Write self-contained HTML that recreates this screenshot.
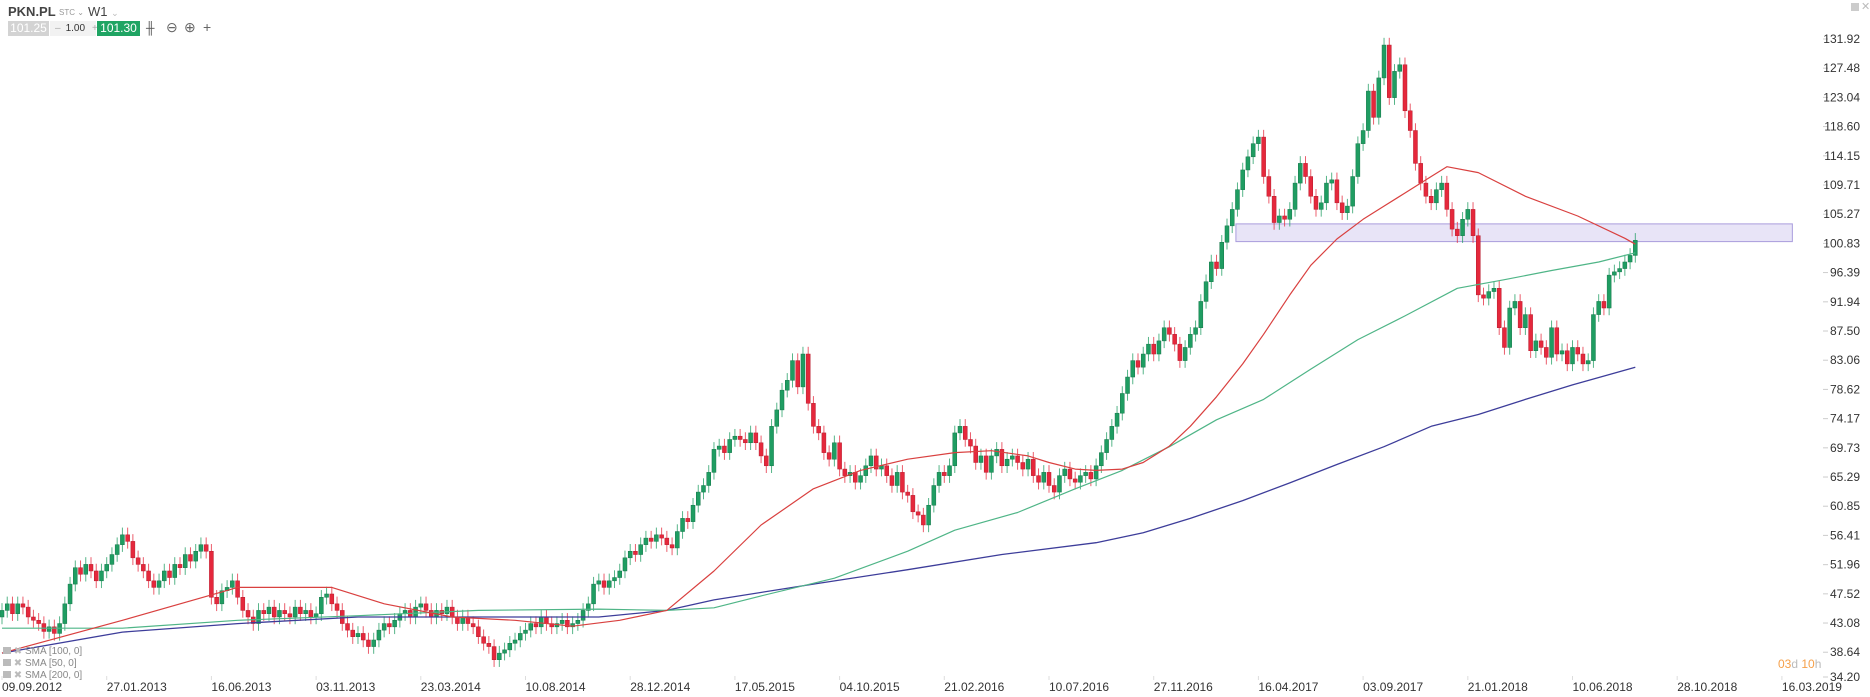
<!DOCTYPE html>
<html><head><meta charset="utf-8">
<style>
body{margin:0;background:#fff;font-family:"Liberation Sans",sans-serif;}
#wrap{position:relative;width:1870px;height:697px;overflow:hidden;}
svg{position:absolute;left:0;top:0;}
.tb{position:absolute;font-size:12px;white-space:nowrap;}
</style></head><body>
<div id="wrap">
<svg id="chart" width="1870" height="697"></svg>

<div class="tb" style="left:8px;top:4px;font-weight:bold;font-size:13px;color:#444">PKN.PL</div>
<div class="tb" style="left:59px;top:8px;font-size:8px;color:#999">STC ⌄</div>
<div class="tb" style="left:88px;top:4px;font-size:13px;color:#444">W1 <span style="color:#bbb;font-size:9px">⌄</span></div>
<div class="tb" style="left:8px;top:21px;width:41px;height:15px;background:#d3d3d3;color:#fff;text-align:center;line-height:15px;font-size:12px">101.25</div>
<div class="tb" style="left:50px;top:21px;width:46px;height:15px;background:#f2f2f2;color:#333;line-height:15px;font-size:10px"><span style="color:#aaa;margin-left:5px">–</span><span style="margin-left:5px">1.00</span><span style="color:#aaa;margin-left:7px">+</span></div>
<div class="tb" style="left:97px;top:21px;width:43px;height:15px;background:#1fa463;color:#fff;text-align:center;line-height:15px;font-size:12px">101.30</div>
<div class="tb" style="left:146px;top:21px;color:#555;font-size:12px">╫</div>
<div class="tb" style="left:166px;top:19px;color:#666;font-size:14px">⊖</div>
<div class="tb" style="left:184px;top:19px;color:#666;font-size:14px">⊕</div>
<div class="tb" style="left:203px;top:19px;color:#666;font-size:14px">+</div>
<div class="tb" style="left:1851px;top:3px;width:8px;height:8px;background:#ccc"></div>
<div class="tb" style="left:1861px;top:0px;color:#bbb;font-size:11px">✕</div>

<div class="tb" style="left:3px;top:646px;font-size:10px;color:#888"><span style="display:inline-block;width:8px;height:7px;background:#bbb"></span> <span style="color:#bbb">✖</span> SMA [100, 0]</div>
<div class="tb" style="left:3px;top:658px;font-size:10px;color:#888"><span style="display:inline-block;width:8px;height:7px;background:#bbb"></span> <span style="color:#bbb">✖</span> SMA [50, 0]</div>
<div class="tb" style="left:3px;top:670px;font-size:10px;color:#888"><span style="display:inline-block;width:8px;height:7px;background:#bbb"></span> <span style="color:#bbb">✖</span> SMA [200, 0]</div>
<div class="tb" style="left:1778px;top:657px;font-size:12px;color:#f5a04a">03<span style="color:#bbb">d</span> 10<span style="color:#bbb">h</span></div>
</div>
<script>
const closes=[
45,46,44.5,46,45.5,44,43.5,43,41.8,42.5,
41.5,43,46,49,51.5,50.5,52,51,49.5,51,
52,53.5,55,56.5,55.5,53,52,51,49.5,48.5,
49.5,51,50,52,51.5,53.5,52.5,54,55,54,
47,46,48,48.5,49.5,47,45,44,43,45,
44.5,45.5,44,45,44.5,44,45.5,44.5,45,44,
44.5,47,47.5,46,45,43,42,41,41.5,40.5,
39.5,40.5,42,43,42.5,43.5,44.5,45,44,45.5,
46,45,44,45,44.5,45.5,44,43,44,43,
42.5,41,40,39.5,37.5,38.5,39,40,40.5,41.5,
42,43,42.5,44,43,42.5,43,43.5,42.5,43,
43.5,45,46,49,49.5,48.5,49.5,50,51,53,
54,53.5,55,56,55.5,56.5,56,55,54.5,57,
59,58.5,61,63,64,66,69.5,70,69,71,
71.5,71,70.5,72,70.5,68.5,67,73,75.5,78.5,
80,83,79,84,76.5,73,72,69,68,70.5,
66.5,65.5,66,64.5,65.5,67,68.5,66.5,67,65.5,
64,66,63,62.5,60,59.5,58,61,64,66,
65.5,67,72,73,71,70,67.5,68.5,66,68.5,
69.5,67,68,68.5,67.5,66.5,68,65.5,64.5,66,
64,63,65.5,66.5,65,64.5,65.5,66,65,67,
69,71,73,75,78,80.5,83,82,84,85.5,
84,86,88,87,85.5,83,85,87,88,92,
95,98,97,101,103.5,106,109,112,114,116,
117,111,108,104,105,104.5,106,110,113,111,
108,106,107,110,110.5,107,105.5,106.5,111,116,
118,124,120,126,131,123,127,128,121,118,
113,110,108,107,109,110,106,103,102,104.5,
106,102,93,92.5,93.5,94,88,85,91,92,
88,90,84.5,86,85,83.5,88,84,84.5,82.5,
85,84,82.5,83,90,92,91,96,96.5,97,
98,99,101.3];
const firstOpen=44;
const wick=1.1;
const sma50Weeks=[0,23,45,63,73,86,98,109,118,127,136,145,155,164,173,182,189,196,200,205,209,214,218,223,227,232,237,241,246,250,255,260,264,268,273,276,282,291,301,310,312];
const sma50Vals=[38.5,43.5,48.5,48.5,46,44,43.5,42.6,43.5,45,51,58,63.5,66.3,68,69,69.3,68.5,67.5,66.5,66.3,66.5,67.5,70,73,77.5,82.5,87,93,97.5,101.5,104.5,106.5,108.5,111,112.5,111.6,108,105,101.6,100.7];
const sma100Weeks=[0,23,45,68,91,114,127,136,145,159,173,182,194,205,214,223,232,241,250,259,268,278,287,296,305,312];
const sma100Vals=[42.3,42.3,43.5,44.2,45,45.2,45,45.4,47.2,49.9,54,57.2,59.9,63.5,66.3,69.9,74,77.1,81.7,86.2,89.8,94,95.3,96.7,98,99.4];
const sma200Weeks=[0,23,45,68,91,114,127,136,155,173,191,209,218,227,237,246,255,264,273,282,291,300,312];
const sma200Vals=[38.5,41.7,43,44,44,44,45,46.6,49,51.2,53.5,55.3,56.8,59,61.7,64.4,67.2,69.9,73,74.8,77.1,79.3,82];
const yTicks=["131.92","127.48","123.04","118.60","114.15","109.71","105.27","100.83","96.39","91.94","87.50","83.06","78.62","74.17","69.73","65.29","60.85","56.41","51.96","47.52","43.08","38.64","34.20"];
const xTicks=["09.09.2012","27.01.2013","16.06.2013","03.11.2013","23.03.2014","10.08.2014","28.12.2014","17.05.2015","04.10.2015","21.02.2016","10.07.2016","27.11.2016","16.04.2017","03.09.2017","21.01.2018","10.06.2018","28.10.2018","16.03.2019"];
const zoneTop=103.8, zoneBottom=101.1, zoneStartWeek=235.7, zoneEndWeek=342;

const NS="http://www.w3.org/2000/svg";
const svg=document.getElementById('chart');
function y(v){return 39+(131.92-v)*6.574;}
function x(i){return 2+i*5.235;}
function mk(tag,attrs,parent){const e=document.createElementNS(NS,tag);for(const k in attrs)e.setAttribute(k,attrs[k]);(parent||svg).appendChild(e);return e;}

const zone=mk('rect',{x:x(zoneStartWeek),y:y(zoneTop),width:x(zoneEndWeek)-x(zoneStartWeek),height:y(zoneBottom)-y(zoneTop),fill:'rgba(150,130,220,0.22)',stroke:'rgba(120,100,200,0.6)','stroke-width':1});



yTicks.forEach((t,k)=>{
  const v=parseFloat(t);
  let yy=y(v); if(yy>677)yy=677;
  const ln=mk('line',{x1:1823,x2:1828,y1:yy,y2:yy,stroke:'#ccc'});
  
  
  const tx=mk('text',{x:1860,y:yy+4,'text-anchor':'end','font-size':12,fill:'#333','font-family':'Liberation Sans, sans-serif'});
  tx.textContent=t;
  
  
});
xTicks.forEach((t,k)=>{
  const xx=x(k*20);
  const ln=mk('line',{x1:xx,x2:xx,y1:676,y2:680,stroke:'#ddd'});
  
  
  const tx=mk('text',{x:xx,y:691,'font-size':12,fill:'#333','font-family':'Liberation Sans, sans-serif'});
  tx.textContent=t;
  
  
});

let prev=firstOpen;
closes.forEach((c,i)=>{
  const o=prev; prev=c;
  const up=c>=o;
  const col=up?'#1f9d62':'#e5283c';
  const hi=Math.max(o,c)+wick, lo=Math.min(o,c)-wick;
  const g=mk('g',{});
  
  
  const cx=x(i);
  mk('line',{x1:cx,x2:cx,y1:y(hi),y2:y(lo),stroke:col,'stroke-width':1,opacity:0.75},g);
  const t=y(Math.max(o,c)),b=y(Math.min(o,c));
  mk('rect',{x:cx-2,y:t,width:4,height:Math.max(1,b-t),fill:col,stroke:up?'#15784a':'#b81c2e','stroke-width':0.5},g);
});

function line(weeks,vals,color,name,w){
  const d=weeks.map((wk,k)=>(k?'L':'M')+x(wk).toFixed(1)+' '+y(vals[k]).toFixed(1)).join(' ');
  const p=mk('path',{d:d,fill:'none',stroke:color,'stroke-width':w,'stroke-linejoin':'round'});
  
  
}
line(sma200Weeks,sma200Vals,'#3d3d9a','sma-200-line',1.3);
line(sma100Weeks,sma100Vals,'#4fb587','sma-100-line',1.2);
line(sma50Weeks,sma50Vals,'#d9403f','sma-50-line',1.2);
</script>
</body></html>
